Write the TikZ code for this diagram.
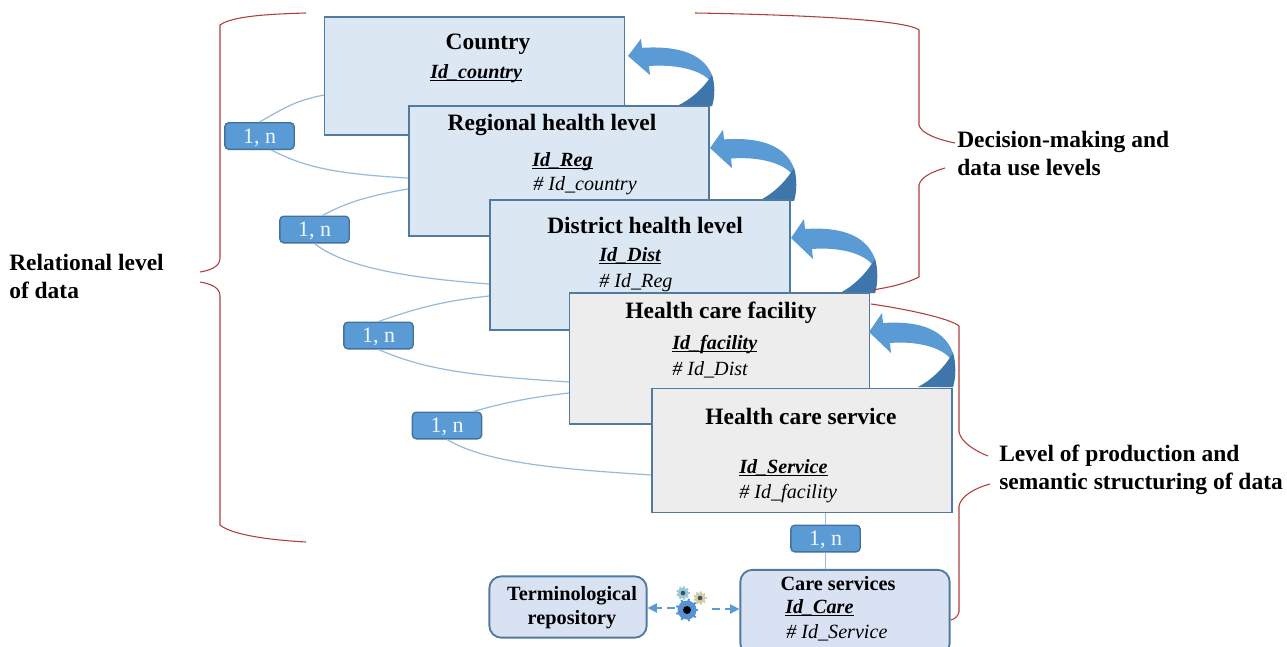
\documentclass[tikz,border=0pt]{standalone}
\usepackage{amsmath}
\usepackage{xcolor}
\usepackage{fontspec}
\setmainfont{Liberation Serif}
\usetikzlibrary{arrows.meta}

\definecolor{boxblue}{RGB}{220,231,244}
\definecolor{boxgray}{RGB}{237,237,237}
\definecolor{boxedge}{RGB}{80,122,160}
\definecolor{badgeblue}{RGB}{91,155,213}
\definecolor{badgeedge}{RGB}{65,113,156}
\definecolor{carefill}{RGB}{217,226,243}
\definecolor{linkblue}{RGB}{150,186,218}
\definecolor{bracered}{RGB}{176,60,60}
\definecolor{darkarrow}{RGB}{62,118,172}

\newcommand{\idline}[1]{\underline{\smash{#1}}}

\tikzset{
  levelbox/.style={draw=boxedge,line width=1.4pt,minimum width=225pt,inner sep=0pt},
  carebox/.style={draw=boxedge,line width=1.4pt,rounded corners=9pt,fill=carefill,inner sep=0pt},
  badge/.style={draw=badgeedge,line width=1pt,fill=badgeblue,rounded corners=3pt,minimum width=52pt,minimum height=20pt,inner sep=0pt,text height=11pt,text depth=0pt,text=white!92!badgeblue,font=\fontsize{16.5}{16.5}\selectfont},
  title/.style={inner sep=0pt,font=\fontsize{17.6}{20}\selectfont\bfseries},
  smalltitle/.style={inner sep=0pt,align=center,font=\fontsize{15.2}{18}\selectfont\bfseries},
  keytext/.style={inner sep=0pt,anchor=west,font=\fontsize{15.1}{16}\selectfont\itshape},
  idtext/.style={inner sep=0pt,anchor=base west,font=\fontsize{15.1}{16}\selectfont\itshape\bfseries},
  sidelabel/.style={inner sep=0pt,anchor=west,align=left,font=\fontsize{17.6}{21}\selectfont\bfseries},
  linkline/.style={draw=linkblue,line width=0.9pt},
  braceline/.style={draw=bracered,line width=0.8pt},
  dashlink/.style={draw=badgeblue,line width=1.1pt,dash pattern=on 6pt off 4pt,-{Triangle[length=7pt,width=7pt]}},
  backarrow/.pic={
    \fill[badgeblue] (0,0) -- (13,-19) -- (14,-9) .. controls (44,-11) and (74,-6) .. (84,21)
      .. controls (87,32) and (87,44) .. (84,55) -- (70,55) -- (81,26)
      .. controls (70,14) and (45,9) .. (21,11) -- (22,21) -- cycle;
    \fill[darkarrow] (82,24) .. controls (73,38) and (62,48) .. (49,55) -- (84,55)
      .. controls (87,44) and (87,32) .. (84,21) -- cycle;
  }
}

\newcommand{\gearwheel}[5]{%
  \foreach \a in {0,40,...,320} \draw[#4,line width=1.5pt] (#1,#2) ++(\a:#3*0.8) -- ++(\a:#3*0.4);
  \fill[#4] (#1,#2) circle (#3);
  \fill[#5] (#1,#2) circle (#3*0.42);
}

\begin{document}
\begin{tikzpicture}[x=0.75pt,y=0.75pt,yscale=-1,xscale=1]
\useasboundingbox (0,0) rectangle (1287,646);

% levels
\node[levelbox,fill=boxblue,minimum height=88pt] (countrybox) at (474.5,76) {};
\pic[yscale=-0.91] at (628,56) {backarrow};
\node[levelbox,fill=boxblue,minimum height=97pt] (regionbox) at (559,171) {};
\pic[yscale=-0.96] at (710,148) {backarrow};
\node[levelbox,fill=boxblue,minimum height=97pt] (districtbox) at (640,265) {};
\pic[yscale=-1.0] at (791,238) {backarrow};
\node[levelbox,fill=boxgray,minimum height=98pt] (facilitybox) at (719.5,358.5) {};
\pic[yscale=-1.0] at (869,332) {backarrow};
\node[levelbox,fill=boxgray,minimum height=93pt] (servicebox) at (802,450.5) {};

\node[carebox,minimum width=157pt,minimum height=64pt] (carebox) at (845,612.5) {};
\node[carebox,minimum width=118pt,minimum height=46pt] (termbox) at (568,607) {};

% badges
\node[badge] (badgeA) at (259.5,136) {1, n};
\node[badge] (badgeB) at (314.5,229.5) {1, n};
\node[badge] (badgeC) at (378.5,335.5) {1, n};
\node[badge] (badgeD) at (447,425.5) {1, n};
\node[badge] (badgeE) at (825.5,538.5) {1, n};

% links
\coordinate (countrylink) at (324,95);
\coordinate (regionlinkA) at (408,178);
\coordinate (regionlinkB) at (408,189);
\coordinate (districtlinkA) at (489,284);
\coordinate (districtlinkB) at (489,296);
\coordinate (facilitylinkA) at (569,382);
\coordinate (facilitylinkB) at (569,393);
\coordinate (servicelink) at (651,475);

\draw[linkline] (countrylink) .. controls +(-30,6) and +(25,-14) .. (badgeA.north);
\draw[linkline] (badgeA.310) .. controls +(35,18) and +(-70,-4) .. (regionlinkA);
\draw[linkline] (regionlinkB) .. controls +(-35,6) and +(25,-14) .. (badgeB.60);
\draw[linkline] (badgeB.south) .. controls +(30,24) and +(-80,-6) .. (districtlinkA);
\draw[linkline] (districtlinkB) .. controls +(-45,5) and +(40,-14) .. (badgeC.north);
\draw[linkline] (badgeC.south) .. controls +(50,22) and +(-90,-6) .. (facilitylinkA);
\draw[linkline] (facilitylinkB) .. controls +(-35,4) and +(35,-10) .. (badgeD.28);
\draw[linkline] (badgeD.south) .. controls +(40,24) and +(-90,-6) .. (servicelink);
\draw[linkline] (servicebox.south -| badgeE.north) -- (badgeE.north);
\draw[linkline] (badgeE.south) -- (carebox.north -| badgeE.south);

% box texts
\node[title] (countrytitle) at (488,44) {Country};
\node[idtext] (countryid) at (430,78) {\idline{Id\_country}};

\node[title] (regiontitle) at (552,125) {Regional health level};
\node[idtext] (regionid) at (532,166) {\idline{Id\_Reg}};
\node[keytext] (regionkey) at (533,186) {\# Id\_country};

\node[title] (districttitle) at (645,225) {District health level};
\node[idtext] (districtid) at (599,261) {\idline{Id\_Dist}};
\node[keytext] (districtkey) at (599,283) {\# Id\_Reg};

\node[title] (facilitytitle) at (721,313) {Health care facility};
\node[idtext] (facilityid) at (672,349) {\idline{Id\_facility}};
\node[keytext] (facilitykey) at (672,370) {\# Id\_Dist};

\node[title] (servicetitle) at (801,416) {Health care service};
\node[idtext] (serviceid) at (739,473) {\idline{Id\_Service}};
\node[keytext] (servicekey) at (739,494) {\# Id\_facility};

\node[smalltitle] (caretitle) at (838,584) {Care services};
\node[idtext] (careid) at (785,613) {\idline{Id\_Care}};
\node[keytext] (carekey) at (786,633) {\# Id\_Service};

\node[smalltitle] (termtitle) at (572,608) {Terminological\\repository};

% side labels
\node[sidelabel] (relationlabel) at (9,276) {Relational level\\of data};
\node[sidelabel] (decisionlabel) at (957,153) {Decision-making and\\data use levels};
\node[sidelabel] (productionlabel) at (999,470) {Level of production and\\semantic structuring of data};

% red brackets
\draw[braceline] (306,13) .. controls (270,14) and (232,16) .. (220,25) -- (220,258) .. controls (220,266) and (212,270) .. (200,272);
\draw[braceline] (200,282) .. controls (212,284) and (220,288) .. (220,296) -- (220,525) .. controls (232,535) and (270,540) .. (306,542);
\draw[braceline] (695,13) .. controls (760,14) and (905,18) .. (919,30) -- (919,125) .. controls (921,134) and (940,140) .. (955,143);
\draw[braceline] (945,168) .. controls (935,171) and (921,176) .. (919,185) -- (919,277) .. controls (905,284) and (890,287) .. (873,290);
\draw[braceline] (871,304) .. controls (900,308) and (950,318) .. (959,326) -- (959,432) .. controls (961,442) and (975,451) .. (988,456);
\draw[braceline] (990,484) .. controls (975,488) and (961,496) .. (959,506) -- (959,612) .. controls (958,616) and (955,619) .. (951,620);

% gears and dashed arrows
\coordinate (gearleft) at (675,608);
\coordinate (gearright) at (712,609);
\draw[dashlink] (gearleft) -- (termbox.east |- gearleft);
\draw[dashlink] (gearright) -- (carebox.west |- gearright);
\gearwheel{683}{593}{5.5}{gray!45!cyan!60!white}{black!70}
\gearwheel{700}{598}{5.5}{yellow!30!gray!60}{black!70}
\gearwheel{687}{610}{9.5}{cyan!55!blue!70!white}{black}

\end{tikzpicture}
\end{document}
